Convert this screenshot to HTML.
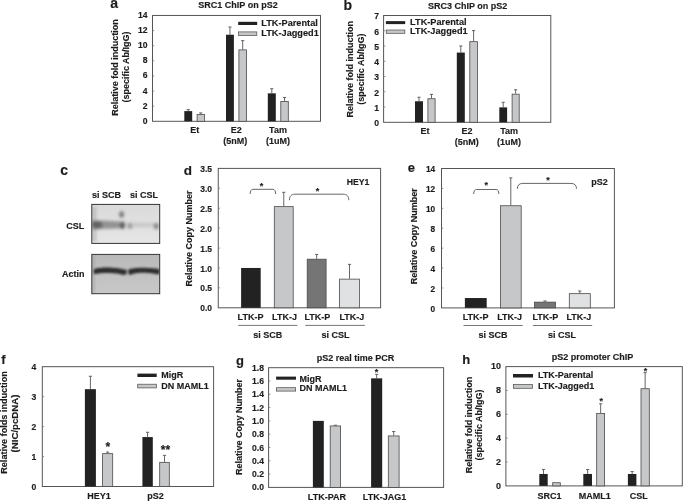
<!DOCTYPE html>
<html><head><meta charset="utf-8"><style>
html,body{margin:0;padding:0;background:#fff;}
svg{display:block;}
text{font-family:"Liberation Sans", sans-serif;stroke:#1c1c1c;stroke-width:0.15px;}
</style></head><body>
<svg width="685" height="502" viewBox="0 0 685 502">
<defs>
<linearGradient id="blot1" x1="0" y1="0" x2="0" y2="1"><stop offset="0" stop-color="#dadada"/><stop offset="0.5" stop-color="#e0e0e0"/><stop offset="1" stop-color="#e6e6e6"/></linearGradient>
<linearGradient id="blot2bg" x1="0" y1="0" x2="0" y2="1"><stop offset="0" stop-color="#b8b8b8"/><stop offset="0.35" stop-color="#bfbfbf"/><stop offset="1" stop-color="#c8c8c8"/></linearGradient>
<filter id="blur1" x="-20%" y="-50%" width="140%" height="200%"><feGaussianBlur stdDeviation="0.75"/></filter>
<filter id="blur2" x="-20%" y="-50%" width="140%" height="200%"><feGaussianBlur stdDeviation="1.4"/></filter>
<filter id="blur3" x="-20%" y="-50%" width="140%" height="200%"><feGaussianBlur stdDeviation="0.95"/></filter>
<clipPath id="cb1"><rect x="91.8" y="204.4" width="67.9" height="39"/></clipPath>
<clipPath id="cb2"><rect x="91.8" y="254.4" width="67.9" height="39.3"/></clipPath>
<filter id="gblur" filterUnits="userSpaceOnUse" x="0" y="0" width="685" height="502"><feGaussianBlur stdDeviation="0.35"/></filter>
</defs>
<rect width="685" height="502" fill="#fff"/>
<g filter="url(#gblur)">
<text x="110.20" y="7.60" font-size="14" text-anchor="start" font-weight="bold" fill="#1c1c1c" >a</text>
<text x="238.00" y="8.30" font-size="9" text-anchor="middle" font-weight="bold" fill="#1c1c1c" >SRC1 ChIP on pS2</text>
<rect x="152.5" y="15.45" width="168.00" height="105.85" fill="none" stroke="#555" stroke-width="1"/>
<text x="147.60" y="123.80" font-size="8.6" text-anchor="end" font-weight="bold" fill="#1c1c1c" >0</text>
<line x1="152.50" y1="106.18" x2="154.30" y2="106.18" stroke="#777" stroke-width="0.8"/>
<text x="147.60" y="108.68" font-size="8.6" text-anchor="end" font-weight="bold" fill="#1c1c1c" >2</text>
<line x1="152.50" y1="91.06" x2="154.30" y2="91.06" stroke="#777" stroke-width="0.8"/>
<text x="147.60" y="93.56" font-size="8.6" text-anchor="end" font-weight="bold" fill="#1c1c1c" >4</text>
<line x1="152.50" y1="75.94" x2="154.30" y2="75.94" stroke="#777" stroke-width="0.8"/>
<text x="147.60" y="78.44" font-size="8.6" text-anchor="end" font-weight="bold" fill="#1c1c1c" >6</text>
<line x1="152.50" y1="60.81" x2="154.30" y2="60.81" stroke="#777" stroke-width="0.8"/>
<text x="147.60" y="63.31" font-size="8.6" text-anchor="end" font-weight="bold" fill="#1c1c1c" >8</text>
<line x1="152.50" y1="45.69" x2="154.30" y2="45.69" stroke="#777" stroke-width="0.8"/>
<text x="147.60" y="48.19" font-size="8.6" text-anchor="end" font-weight="bold" fill="#1c1c1c" >10</text>
<line x1="152.50" y1="30.57" x2="154.30" y2="30.57" stroke="#777" stroke-width="0.8"/>
<text x="147.60" y="33.07" font-size="8.6" text-anchor="end" font-weight="bold" fill="#1c1c1c" >12</text>
<text x="147.60" y="17.95" font-size="8.6" text-anchor="end" font-weight="bold" fill="#1c1c1c" >14</text>
<line x1="188.25" y1="109.58" x2="188.25" y2="111.09" stroke="#555" stroke-width="0.9"/>
<line x1="186.65" y1="109.58" x2="189.85" y2="109.58" stroke="#555" stroke-width="0.9"/>
<rect x="184.30" y="111.09" width="7.90" height="10.21" fill="#242324"/>
<line x1="200.75" y1="112.91" x2="200.75" y2="114.19" stroke="#555" stroke-width="0.9"/>
<line x1="199.15" y1="112.91" x2="202.35" y2="112.91" stroke="#555" stroke-width="0.9"/>
<rect x="197.10" y="114.59" width="7.30" height="6.71" fill="#c6c7c9" stroke="#4a4a4a" stroke-width="0.8"/>
<line x1="229.95" y1="27.02" x2="229.95" y2="34.73" stroke="#555" stroke-width="0.9"/>
<line x1="228.35" y1="27.02" x2="231.55" y2="27.02" stroke="#555" stroke-width="0.9"/>
<rect x="226.00" y="34.73" width="7.90" height="86.57" fill="#242324"/>
<line x1="242.70" y1="40.63" x2="242.70" y2="49.47" stroke="#555" stroke-width="0.9"/>
<line x1="241.10" y1="40.63" x2="244.30" y2="40.63" stroke="#555" stroke-width="0.9"/>
<rect x="238.90" y="49.87" width="7.60" height="71.43" fill="#c6c7c9" stroke="#4a4a4a" stroke-width="0.8"/>
<line x1="271.80" y1="88.71" x2="271.80" y2="93.33" stroke="#555" stroke-width="0.9"/>
<line x1="270.20" y1="88.71" x2="273.40" y2="88.71" stroke="#555" stroke-width="0.9"/>
<rect x="267.80" y="93.33" width="8.00" height="27.97" fill="#242324"/>
<line x1="284.55" y1="97.48" x2="284.55" y2="101.19" stroke="#555" stroke-width="0.9"/>
<line x1="282.95" y1="97.48" x2="286.15" y2="97.48" stroke="#555" stroke-width="0.9"/>
<rect x="280.80" y="101.59" width="7.50" height="19.71" fill="#c6c7c9" stroke="#4a4a4a" stroke-width="0.8"/>
<rect x="238.2" y="21.8" width="19.00" height="3.2" fill="#242324"/>
<text x="261.30" y="25.70" font-size="9.2" text-anchor="start" font-weight="bold" fill="#1c1c1c" >LTK-Parental</text>
<rect x="238.55" y="31.90" width="18.30" height="3.50" fill="#c6c7c9" stroke="#4a4a4a" stroke-width="0.7"/>
<text x="261.30" y="35.50" font-size="9.2" text-anchor="start" font-weight="bold" fill="#1c1c1c" >LTK-Jagged1</text>
<text x="0" y="0" font-size="9" text-anchor="middle" font-weight="bold" fill="#1c1c1c" transform="translate(118.4,67.5) rotate(-90)" >Relative fold induction</text>
<text x="0" y="0" font-size="9" text-anchor="middle" font-weight="bold" fill="#1c1c1c" transform="translate(129.2,67.0) rotate(-90)" >(specific Ab/IgG)</text>
<text x="194.80" y="133.00" font-size="9" text-anchor="middle" font-weight="bold" fill="#1c1c1c" >Et</text>
<text x="236.30" y="133.00" font-size="9" text-anchor="middle" font-weight="bold" fill="#1c1c1c" >E2</text>
<text x="235.20" y="144.00" font-size="9" text-anchor="middle" font-weight="bold" fill="#1c1c1c" >(5nM)</text>
<text x="278.00" y="133.00" font-size="9" text-anchor="middle" font-weight="bold" fill="#1c1c1c" >Tam</text>
<text x="278.00" y="144.00" font-size="9" text-anchor="middle" font-weight="bold" fill="#1c1c1c" >(1uM)</text>
<text x="343.60" y="9.80" font-size="14" text-anchor="start" font-weight="bold" fill="#1c1c1c" >b</text>
<text x="467.60" y="9.20" font-size="9" text-anchor="middle" font-weight="bold" fill="#1c1c1c" >SRC3 ChIP on pS2</text>
<rect x="383.6" y="15.5" width="167.20" height="106.80" fill="none" stroke="#555" stroke-width="1"/>
<text x="379.00" y="126.20" font-size="8.6" text-anchor="end" font-weight="bold" fill="#1c1c1c" >0</text>
<line x1="383.60" y1="107.04" x2="385.40" y2="107.04" stroke="#777" stroke-width="0.8"/>
<text x="379.00" y="110.94" font-size="8.6" text-anchor="end" font-weight="bold" fill="#1c1c1c" >1</text>
<line x1="383.60" y1="91.79" x2="385.40" y2="91.79" stroke="#777" stroke-width="0.8"/>
<text x="379.00" y="95.69" font-size="8.6" text-anchor="end" font-weight="bold" fill="#1c1c1c" >2</text>
<line x1="383.60" y1="76.53" x2="385.40" y2="76.53" stroke="#777" stroke-width="0.8"/>
<text x="379.00" y="80.43" font-size="8.6" text-anchor="end" font-weight="bold" fill="#1c1c1c" >3</text>
<line x1="383.60" y1="61.27" x2="385.40" y2="61.27" stroke="#777" stroke-width="0.8"/>
<text x="379.00" y="65.17" font-size="8.6" text-anchor="end" font-weight="bold" fill="#1c1c1c" >4</text>
<line x1="383.60" y1="46.01" x2="385.40" y2="46.01" stroke="#777" stroke-width="0.8"/>
<text x="379.00" y="49.91" font-size="8.6" text-anchor="end" font-weight="bold" fill="#1c1c1c" >5</text>
<line x1="383.60" y1="30.76" x2="385.40" y2="30.76" stroke="#777" stroke-width="0.8"/>
<text x="379.00" y="34.66" font-size="8.6" text-anchor="end" font-weight="bold" fill="#1c1c1c" >6</text>
<text x="379.00" y="19.40" font-size="8.6" text-anchor="end" font-weight="bold" fill="#1c1c1c" >7</text>
<line x1="419.00" y1="97.28" x2="419.00" y2="101.25" stroke="#555" stroke-width="0.9"/>
<line x1="417.40" y1="97.28" x2="420.60" y2="97.28" stroke="#555" stroke-width="0.9"/>
<rect x="415.00" y="101.25" width="8.00" height="21.05" fill="#242324"/>
<line x1="431.50" y1="94.38" x2="431.50" y2="98.35" stroke="#555" stroke-width="0.9"/>
<line x1="429.90" y1="94.38" x2="433.10" y2="94.38" stroke="#555" stroke-width="0.9"/>
<rect x="427.90" y="98.75" width="7.20" height="23.55" fill="#c6c7c9" stroke="#4a4a4a" stroke-width="0.8"/>
<line x1="460.80" y1="46.01" x2="460.80" y2="52.57" stroke="#555" stroke-width="0.9"/>
<line x1="459.20" y1="46.01" x2="462.40" y2="46.01" stroke="#555" stroke-width="0.9"/>
<rect x="456.80" y="52.57" width="8.00" height="69.73" fill="#242324"/>
<line x1="473.60" y1="30.60" x2="473.60" y2="41.28" stroke="#555" stroke-width="0.9"/>
<line x1="472.00" y1="30.60" x2="475.20" y2="30.60" stroke="#555" stroke-width="0.9"/>
<rect x="469.80" y="41.68" width="7.60" height="80.62" fill="#c6c7c9" stroke="#4a4a4a" stroke-width="0.8"/>
<line x1="503.20" y1="102.31" x2="503.20" y2="107.35" stroke="#555" stroke-width="0.9"/>
<line x1="501.60" y1="102.31" x2="504.80" y2="102.31" stroke="#555" stroke-width="0.9"/>
<rect x="499.30" y="107.35" width="7.80" height="14.95" fill="#242324"/>
<line x1="515.65" y1="89.80" x2="515.65" y2="93.77" stroke="#555" stroke-width="0.9"/>
<line x1="514.05" y1="89.80" x2="517.25" y2="89.80" stroke="#555" stroke-width="0.9"/>
<rect x="512.10" y="94.17" width="7.10" height="28.13" fill="#c6c7c9" stroke="#4a4a4a" stroke-width="0.8"/>
<rect x="385.9" y="21.1" width="19.30" height="3.0" fill="#242324"/>
<text x="410.10" y="24.60" font-size="9.2" text-anchor="start" font-weight="bold" fill="#1c1c1c" >LTK-Parental</text>
<rect x="386.25" y="30.00" width="18.60" height="3.30" fill="#c6c7c9" stroke="#4a4a4a" stroke-width="0.7"/>
<text x="410.10" y="33.70" font-size="9.2" text-anchor="start" font-weight="bold" fill="#1c1c1c" >LTK-Jagged1</text>
<text x="0" y="0" font-size="9" text-anchor="middle" font-weight="bold" fill="#1c1c1c" transform="translate(352.8,69.3) rotate(-90)" >Relative fold induction</text>
<text x="0" y="0" font-size="9" text-anchor="middle" font-weight="bold" fill="#1c1c1c" transform="translate(364.4,69.2) rotate(-90)" >(specific Ab/IgG)</text>
<text x="425.10" y="134.20" font-size="9" text-anchor="middle" font-weight="bold" fill="#1c1c1c" >Et</text>
<text x="467.00" y="134.20" font-size="9" text-anchor="middle" font-weight="bold" fill="#1c1c1c" >E2</text>
<text x="466.70" y="144.50" font-size="9" text-anchor="middle" font-weight="bold" fill="#1c1c1c" >(5nM)</text>
<text x="509.20" y="134.20" font-size="9" text-anchor="middle" font-weight="bold" fill="#1c1c1c" >Tam</text>
<text x="509.00" y="144.50" font-size="9" text-anchor="middle" font-weight="bold" fill="#1c1c1c" >(1uM)</text>
<text x="60.20" y="175.30" font-size="14" text-anchor="start" font-weight="bold" fill="#1c1c1c" >c</text>
<text x="106.50" y="197.70" font-size="9" text-anchor="middle" font-weight="bold" fill="#1c1c1c" >si SCB</text>
<text x="143.90" y="197.70" font-size="9" text-anchor="middle" font-weight="bold" fill="#1c1c1c" >si CSL</text>
<text x="84.20" y="229.10" font-size="9" text-anchor="end" font-weight="bold" fill="#1c1c1c" >CSL</text>
<text x="84.40" y="276.50" font-size="9" text-anchor="end" font-weight="bold" fill="#1c1c1c" >Actin</text>
<g clip-path="url(#cb1)">
<rect x="91.8" y="204.4" width="67.9" height="39" fill="url(#blot1)"/>
<g filter="url(#blur2)">
<rect x="92" y="207" width="4.5" height="35" fill="#a8a8a8" opacity="0.55"/>
<path d="M92,220.2 C100,220.2 112,221 125,221.8 L125,228.2 C112,228.4 100,229.2 92,229.5 Z" fill="#808080" opacity="0.8"/>
<ellipse cx="97" cy="224.8" rx="5.5" ry="3.8" fill="#505050" opacity="0.7"/>
<ellipse cx="121.6" cy="214.5" rx="2.4" ry="3.2" fill="#6a6a6a" opacity="0.85"/>
<ellipse cx="122.3" cy="225.5" rx="2.4" ry="3.4" fill="#555" opacity="0.85"/>
<ellipse cx="130" cy="226" rx="2.2" ry="3" fill="#777" opacity="0.75"/>
<path d="M126,222.5 C135,222.5 148,223 159,223.5 L159,227.5 C148,227 135,227 126,227.5 Z" fill="#aaa" opacity="0.45"/>
<ellipse cx="156.3" cy="226.2" rx="2.6" ry="3.2" fill="#777" opacity="0.75"/>
</g></g>
<rect x="91.8" y="204.4" width="67.9" height="39" fill="none" stroke="#333" stroke-width="1"/>
<g clip-path="url(#cb2)">
<rect x="91.8" y="254.4" width="67.9" height="39.3" fill="url(#blot2bg)"/>
<g filter="url(#blur3)">
<rect x="92" y="256" width="3" height="37" fill="#999" opacity="0.4"/>
<path d="M93.5,269.2 C97,267.8 105,267.4 112,267.7 C118,268 122,268.8 126.8,269.8 L126.5,274.2 C124,275.2 122,275 120,274 C112,272.8 101,272.6 96,274 C94,274.5 93.5,273.5 93.5,272 Z" fill="#2e2e2e"/>
<path d="M128.3,269.8 C131,268 140,267.6 148,267.9 C154,268 157,268.5 159.5,269 L159.5,274.2 C157,274.6 154,273.3 148,272.9 C140,272.6 134,273.2 131,274.7 C129.5,275.2 128.3,274 128.3,272.5 Z" fill="#2e2e2e"/>
</g></g>
<rect x="91.8" y="254.4" width="67.9" height="39.3" fill="none" stroke="#333" stroke-width="1"/>
<text x="183.70" y="175.10" font-size="13.5" text-anchor="start" font-weight="bold" fill="#1c1c1c" >d</text>
<rect x="218.25" y="168.4" width="162.35" height="139.40" fill="none" stroke="#555" stroke-width="1"/>
<text x="212.00" y="311.40" font-size="8.5" text-anchor="end" font-weight="bold" fill="#1c1c1c" >0.0</text>
<line x1="218.25" y1="287.89" x2="220.05" y2="287.89" stroke="#777" stroke-width="0.8"/>
<text x="212.00" y="291.49" font-size="8.5" text-anchor="end" font-weight="bold" fill="#1c1c1c" >0.5</text>
<line x1="218.25" y1="267.97" x2="220.05" y2="267.97" stroke="#777" stroke-width="0.8"/>
<text x="212.00" y="271.57" font-size="8.5" text-anchor="end" font-weight="bold" fill="#1c1c1c" >1.0</text>
<line x1="218.25" y1="248.06" x2="220.05" y2="248.06" stroke="#777" stroke-width="0.8"/>
<text x="212.00" y="251.66" font-size="8.5" text-anchor="end" font-weight="bold" fill="#1c1c1c" >1.5</text>
<line x1="218.25" y1="228.14" x2="220.05" y2="228.14" stroke="#777" stroke-width="0.8"/>
<text x="212.00" y="231.74" font-size="8.5" text-anchor="end" font-weight="bold" fill="#1c1c1c" >2.0</text>
<line x1="218.25" y1="208.23" x2="220.05" y2="208.23" stroke="#777" stroke-width="0.8"/>
<text x="212.00" y="211.83" font-size="8.5" text-anchor="end" font-weight="bold" fill="#1c1c1c" >2.5</text>
<line x1="218.25" y1="188.31" x2="220.05" y2="188.31" stroke="#777" stroke-width="0.8"/>
<text x="212.00" y="191.91" font-size="8.5" text-anchor="end" font-weight="bold" fill="#1c1c1c" >3.0</text>
<text x="212.00" y="172.00" font-size="8.5" text-anchor="end" font-weight="bold" fill="#1c1c1c" >3.5</text>
<rect x="241.10" y="267.97" width="19.60" height="39.83" fill="#242324"/>
<line x1="283.75" y1="192.30" x2="283.75" y2="206.24" stroke="#555" stroke-width="0.9"/>
<line x1="282.15" y1="192.30" x2="285.35" y2="192.30" stroke="#555" stroke-width="0.9"/>
<rect x="274.30" y="206.64" width="18.90" height="101.16" fill="#c6c7c9" stroke="#4a4a4a" stroke-width="0.8"/>
<line x1="316.65" y1="254.43" x2="316.65" y2="258.81" stroke="#555" stroke-width="0.9"/>
<line x1="315.05" y1="254.43" x2="318.25" y2="254.43" stroke="#555" stroke-width="0.9"/>
<rect x="307.20" y="259.21" width="18.90" height="48.59" fill="#747476" stroke="#4a4a4a" stroke-width="0.8"/>
<line x1="349.50" y1="264.39" x2="349.50" y2="278.73" stroke="#555" stroke-width="0.9"/>
<line x1="347.90" y1="264.39" x2="351.10" y2="264.39" stroke="#555" stroke-width="0.9"/>
<rect x="339.60" y="279.13" width="19.80" height="28.67" fill="#e0e1e3" stroke="#4a4a4a" stroke-width="0.8"/>
<text x="0" y="0" font-size="9" text-anchor="middle" font-weight="bold" fill="#1c1c1c" transform="translate(191.7,238.5) rotate(-90)" >Relative Copy Number</text>
<text x="358.10" y="185.20" font-size="8.7" text-anchor="middle" font-weight="bold" fill="#1c1c1c" >HEY1</text>
<text x="250.50" y="320.40" font-size="9" text-anchor="middle" font-weight="bold" fill="#1c1c1c" >LTK-P</text>
<text x="284.50" y="320.40" font-size="9" text-anchor="middle" font-weight="bold" fill="#1c1c1c" >LTK-J</text>
<text x="317.40" y="320.40" font-size="9" text-anchor="middle" font-weight="bold" fill="#1c1c1c" >LTK-P</text>
<text x="351.90" y="320.40" font-size="9" text-anchor="middle" font-weight="bold" fill="#1c1c1c" >LTK-J</text>
<line x1="238.20" y1="325.40" x2="297.40" y2="325.40" stroke="#666" stroke-width="0.9"/>
<line x1="305.20" y1="325.40" x2="364.90" y2="325.40" stroke="#666" stroke-width="0.9"/>
<text x="267.80" y="337.70" font-size="9" text-anchor="middle" font-weight="bold" fill="#1c1c1c" >si SCB</text>
<text x="335.60" y="337.70" font-size="9" text-anchor="middle" font-weight="bold" fill="#1c1c1c" >si CSL</text>
<path d="M250.2,194.0 C250.2,190.945 251.17999999999998,189.3 253.0,189.3 L272.8,189.3 C274.62,189.3 275.6,190.945 275.6,194.0" fill="none" stroke="#555" stroke-width="0.9"/>
<text x="261.60" y="188.50" font-size="9" text-anchor="middle" font-weight="bold" fill="#1c1c1c" >*</text>
<path d="M289.4,200.2 C289.4,196.29999999999998 291.325,194.2 294.9,194.2 L343.3,194.2 C346.875,194.2 348.8,196.29999999999998 348.8,200.2" fill="none" stroke="#555" stroke-width="0.9"/>
<text x="317.40" y="194.30" font-size="9" text-anchor="middle" font-weight="bold" fill="#1c1c1c" >*</text>
<text x="407.80" y="172.30" font-size="13" text-anchor="start" font-weight="bold" fill="#1c1c1c" >e</text>
<rect x="441.5" y="168.5" width="172.90" height="139.40" fill="none" stroke="#555" stroke-width="1"/>
<text x="435.20" y="311.50" font-size="8.3" text-anchor="end" font-weight="bold" fill="#1c1c1c" >0</text>
<line x1="441.50" y1="287.99" x2="443.30" y2="287.99" stroke="#777" stroke-width="0.8"/>
<text x="435.20" y="291.59" font-size="8.3" text-anchor="end" font-weight="bold" fill="#1c1c1c" >2</text>
<line x1="441.50" y1="268.07" x2="443.30" y2="268.07" stroke="#777" stroke-width="0.8"/>
<text x="435.20" y="271.67" font-size="8.3" text-anchor="end" font-weight="bold" fill="#1c1c1c" >4</text>
<line x1="441.50" y1="248.16" x2="443.30" y2="248.16" stroke="#777" stroke-width="0.8"/>
<text x="435.20" y="251.76" font-size="8.3" text-anchor="end" font-weight="bold" fill="#1c1c1c" >6</text>
<line x1="441.50" y1="228.24" x2="443.30" y2="228.24" stroke="#777" stroke-width="0.8"/>
<text x="435.20" y="231.84" font-size="8.3" text-anchor="end" font-weight="bold" fill="#1c1c1c" >8</text>
<line x1="441.50" y1="208.33" x2="443.30" y2="208.33" stroke="#777" stroke-width="0.8"/>
<text x="435.20" y="211.93" font-size="8.3" text-anchor="end" font-weight="bold" fill="#1c1c1c" >10</text>
<line x1="441.50" y1="188.41" x2="443.30" y2="188.41" stroke="#777" stroke-width="0.8"/>
<text x="435.20" y="192.01" font-size="8.3" text-anchor="end" font-weight="bold" fill="#1c1c1c" >12</text>
<text x="435.20" y="172.10" font-size="8.3" text-anchor="end" font-weight="bold" fill="#1c1c1c" >14</text>
<rect x="464.90" y="298.04" width="21.80" height="9.86" fill="#242324"/>
<line x1="510.80" y1="177.86" x2="510.80" y2="205.34" stroke="#555" stroke-width="0.9"/>
<line x1="509.20" y1="177.86" x2="512.40" y2="177.86" stroke="#555" stroke-width="0.9"/>
<rect x="500.40" y="205.74" width="20.80" height="102.16" fill="#c6c7c9" stroke="#4a4a4a" stroke-width="0.8"/>
<line x1="545.00" y1="300.93" x2="545.00" y2="301.73" stroke="#555" stroke-width="0.9"/>
<line x1="543.40" y1="300.93" x2="546.60" y2="300.93" stroke="#555" stroke-width="0.9"/>
<rect x="534.50" y="302.13" width="21.00" height="5.77" fill="#747476" stroke="#4a4a4a" stroke-width="0.8"/>
<line x1="579.80" y1="290.97" x2="579.80" y2="293.26" stroke="#555" stroke-width="0.9"/>
<line x1="578.20" y1="290.97" x2="581.40" y2="290.97" stroke="#555" stroke-width="0.9"/>
<rect x="569.30" y="293.66" width="21.00" height="14.24" fill="#e0e1e3" stroke="#4a4a4a" stroke-width="0.8"/>
<text x="0" y="0" font-size="9" text-anchor="middle" font-weight="bold" fill="#1c1c1c" transform="translate(417.3,236.3) rotate(-90)" >Relative Copy Number</text>
<text x="599.50" y="185.00" font-size="9" text-anchor="middle" font-weight="bold" fill="#1c1c1c" >pS2</text>
<text x="475.70" y="319.80" font-size="9" text-anchor="middle" font-weight="bold" fill="#1c1c1c" >LTK-P</text>
<text x="509.60" y="319.80" font-size="9" text-anchor="middle" font-weight="bold" fill="#1c1c1c" >LTK-J</text>
<text x="545.30" y="319.80" font-size="9" text-anchor="middle" font-weight="bold" fill="#1c1c1c" >LTK-P</text>
<text x="578.80" y="319.80" font-size="9" text-anchor="middle" font-weight="bold" fill="#1c1c1c" >LTK-J</text>
<line x1="463.50" y1="325.50" x2="522.70" y2="325.50" stroke="#666" stroke-width="0.9"/>
<line x1="532.90" y1="325.50" x2="592.20" y2="325.50" stroke="#666" stroke-width="0.9"/>
<text x="493.10" y="337.80" font-size="9" text-anchor="middle" font-weight="bold" fill="#1c1c1c" >si SCB</text>
<text x="561.90" y="337.80" font-size="9" text-anchor="middle" font-weight="bold" fill="#1c1c1c" >si CSL</text>
<path d="M473.7,194.0 C473.7,191.075 474.68,189.5 476.5,189.5 L496.0,189.5 C497.82,189.5 498.8,191.075 498.8,194.0" fill="none" stroke="#555" stroke-width="0.9"/>
<text x="486.30" y="188.20" font-size="9" text-anchor="middle" font-weight="bold" fill="#1c1c1c" >*</text>
<path d="M517.3,188.8 C517.3,185.29000000000002 519.2249999999999,183.4 522.8,183.4 L571.0,183.4 C574.575,183.4 576.5,185.29000000000002 576.5,188.8" fill="none" stroke="#555" stroke-width="0.9"/>
<text x="547.90" y="182.80" font-size="9" text-anchor="middle" font-weight="bold" fill="#1c1c1c" >*</text>
<text x="1.20" y="363.60" font-size="13" text-anchor="start" font-weight="bold" fill="#1c1c1c" >f</text>
<rect x="42.3" y="366.7" width="171.30" height="119.80" fill="none" stroke="#555" stroke-width="1"/>
<text x="36.20" y="489.70" font-size="8.6" text-anchor="end" font-weight="bold" fill="#1c1c1c" >0</text>
<line x1="42.30" y1="456.55" x2="44.10" y2="456.55" stroke="#777" stroke-width="0.8"/>
<text x="36.20" y="459.75" font-size="8.6" text-anchor="end" font-weight="bold" fill="#1c1c1c" >1</text>
<line x1="42.30" y1="426.60" x2="44.10" y2="426.60" stroke="#777" stroke-width="0.8"/>
<text x="36.20" y="429.80" font-size="8.6" text-anchor="end" font-weight="bold" fill="#1c1c1c" >2</text>
<line x1="42.30" y1="396.65" x2="44.10" y2="396.65" stroke="#777" stroke-width="0.8"/>
<text x="36.20" y="399.85" font-size="8.6" text-anchor="end" font-weight="bold" fill="#1c1c1c" >3</text>
<text x="36.20" y="369.90" font-size="8.6" text-anchor="end" font-weight="bold" fill="#1c1c1c" >4</text>
<line x1="90.40" y1="376.28" x2="90.40" y2="389.16" stroke="#555" stroke-width="0.9"/>
<line x1="88.80" y1="376.28" x2="92.00" y2="376.28" stroke="#555" stroke-width="0.9"/>
<rect x="84.90" y="389.16" width="11.00" height="97.34" fill="#242324"/>
<line x1="107.65" y1="452.06" x2="107.65" y2="453.26" stroke="#555" stroke-width="0.9"/>
<line x1="106.05" y1="452.06" x2="109.25" y2="452.06" stroke="#555" stroke-width="0.9"/>
<rect x="102.60" y="453.66" width="10.10" height="32.84" fill="#c6c7c9" stroke="#4a4a4a" stroke-width="0.8"/>
<line x1="147.60" y1="432.29" x2="147.60" y2="437.08" stroke="#555" stroke-width="0.9"/>
<line x1="146.00" y1="432.29" x2="149.20" y2="432.29" stroke="#555" stroke-width="0.9"/>
<rect x="142.40" y="437.08" width="10.40" height="49.42" fill="#242324"/>
<line x1="164.50" y1="455.35" x2="164.50" y2="461.94" stroke="#555" stroke-width="0.9"/>
<line x1="162.90" y1="455.35" x2="166.10" y2="455.35" stroke="#555" stroke-width="0.9"/>
<rect x="159.70" y="462.34" width="9.60" height="24.16" fill="#c6c7c9" stroke="#4a4a4a" stroke-width="0.8"/>
<rect x="137.4" y="373.6" width="19.30" height="3.4" fill="#242324"/>
<text x="161.20" y="377.80" font-size="9" text-anchor="start" font-weight="bold" fill="#1c1c1c" >MigR</text>
<rect x="137.75" y="384.20" width="18.60" height="3.70" fill="#c6c7c9" stroke="#4a4a4a" stroke-width="0.7"/>
<text x="161.20" y="389.20" font-size="9" text-anchor="start" font-weight="bold" fill="#1c1c1c" >DN MAML1</text>
<text x="0" y="0" font-size="9" text-anchor="middle" font-weight="bold" fill="#1c1c1c" transform="translate(7.2,422.5) rotate(-90)" textLength="102.5" lengthAdjust="spacingAndGlyphs">Relative folds induction</text>
<text x="0" y="0" font-size="9" text-anchor="middle" font-weight="bold" fill="#1c1c1c" transform="translate(18.2,423.5) rotate(-90)" textLength="58" lengthAdjust="spacingAndGlyphs">(NIC/pcDNA)</text>
<text x="107.80" y="450.80" font-size="12" text-anchor="middle" font-weight="bold" fill="#1c1c1c" >*</text>
<text x="165.40" y="454.40" font-size="12" text-anchor="middle" font-weight="bold" fill="#1c1c1c" >**</text>
<text x="99.10" y="498.60" font-size="9" text-anchor="middle" font-weight="bold" fill="#1c1c1c" >HEY1</text>
<text x="155.60" y="499.20" font-size="9" text-anchor="middle" font-weight="bold" fill="#1c1c1c" >pS2</text>
<text x="236.00" y="364.60" font-size="13" text-anchor="start" font-weight="bold" fill="#1c1c1c" >g</text>
<text x="355.60" y="361.20" font-size="9" text-anchor="middle" font-weight="bold" fill="#1c1c1c" >pS2 real time PCR</text>
<rect x="268.6" y="367.7" width="175.00" height="119.70" fill="none" stroke="#555" stroke-width="1"/>
<text x="264.00" y="490.40" font-size="8.6" text-anchor="end" font-weight="bold" fill="#1c1c1c" >0.0</text>
<line x1="268.60" y1="474.10" x2="270.40" y2="474.10" stroke="#777" stroke-width="0.8"/>
<text x="264.00" y="477.10" font-size="8.6" text-anchor="end" font-weight="bold" fill="#1c1c1c" >0.2</text>
<line x1="268.60" y1="460.80" x2="270.40" y2="460.80" stroke="#777" stroke-width="0.8"/>
<text x="264.00" y="463.80" font-size="8.6" text-anchor="end" font-weight="bold" fill="#1c1c1c" >0.4</text>
<line x1="268.60" y1="447.50" x2="270.40" y2="447.50" stroke="#777" stroke-width="0.8"/>
<text x="264.00" y="450.50" font-size="8.6" text-anchor="end" font-weight="bold" fill="#1c1c1c" >0.6</text>
<line x1="268.60" y1="434.20" x2="270.40" y2="434.20" stroke="#777" stroke-width="0.8"/>
<text x="264.00" y="437.20" font-size="8.6" text-anchor="end" font-weight="bold" fill="#1c1c1c" >0.8</text>
<line x1="268.60" y1="420.90" x2="270.40" y2="420.90" stroke="#777" stroke-width="0.8"/>
<text x="264.00" y="423.90" font-size="8.6" text-anchor="end" font-weight="bold" fill="#1c1c1c" >1.0</text>
<line x1="268.60" y1="407.60" x2="270.40" y2="407.60" stroke="#777" stroke-width="0.8"/>
<text x="264.00" y="410.60" font-size="8.6" text-anchor="end" font-weight="bold" fill="#1c1c1c" >1.2</text>
<line x1="268.60" y1="394.30" x2="270.40" y2="394.30" stroke="#777" stroke-width="0.8"/>
<text x="264.00" y="397.30" font-size="8.6" text-anchor="end" font-weight="bold" fill="#1c1c1c" >1.4</text>
<line x1="268.60" y1="381.00" x2="270.40" y2="381.00" stroke="#777" stroke-width="0.8"/>
<text x="264.00" y="384.00" font-size="8.6" text-anchor="end" font-weight="bold" fill="#1c1c1c" >1.6</text>
<text x="264.00" y="370.70" font-size="8.6" text-anchor="end" font-weight="bold" fill="#1c1c1c" >1.8</text>
<rect x="312.90" y="420.90" width="10.90" height="66.50" fill="#242324"/>
<line x1="335.40" y1="425.22" x2="335.40" y2="425.55" stroke="#555" stroke-width="0.9"/>
<line x1="333.80" y1="425.22" x2="337.00" y2="425.22" stroke="#555" stroke-width="0.9"/>
<rect x="330.20" y="425.95" width="10.40" height="61.45" fill="#c6c7c9" stroke="#4a4a4a" stroke-width="0.8"/>
<line x1="376.65" y1="374.35" x2="376.65" y2="378.34" stroke="#555" stroke-width="0.9"/>
<line x1="375.05" y1="374.35" x2="378.25" y2="374.35" stroke="#555" stroke-width="0.9"/>
<rect x="371.10" y="378.34" width="11.10" height="109.06" fill="#242324"/>
<line x1="393.70" y1="431.54" x2="393.70" y2="435.53" stroke="#555" stroke-width="0.9"/>
<line x1="392.10" y1="431.54" x2="395.30" y2="431.54" stroke="#555" stroke-width="0.9"/>
<rect x="388.30" y="435.93" width="10.80" height="51.47" fill="#c6c7c9" stroke="#4a4a4a" stroke-width="0.8"/>
<rect x="276.1" y="376.6" width="19.90" height="3.1" fill="#242324"/>
<text x="299.40" y="382.00" font-size="9" text-anchor="start" font-weight="bold" fill="#1c1c1c" >MigR</text>
<rect x="276.45" y="387.70" width="19.20" height="3.40" fill="#c6c7c9" stroke="#4a4a4a" stroke-width="0.7"/>
<text x="299.40" y="391.40" font-size="9" text-anchor="start" font-weight="bold" fill="#1c1c1c" >DN MAML1</text>
<text x="0" y="0" font-size="9" text-anchor="middle" font-weight="bold" fill="#1c1c1c" transform="translate(241.8,427.0) rotate(-90)" >Relative Copy Number</text>
<text x="376.50" y="375.30" font-size="9" text-anchor="middle" font-weight="bold" fill="#1c1c1c" >*</text>
<text x="326.90" y="500.10" font-size="9" text-anchor="middle" font-weight="bold" fill="#1c1c1c" >LTK-PAR</text>
<text x="384.50" y="500.10" font-size="9" text-anchor="middle" font-weight="bold" fill="#1c1c1c" >LTK-JAG1</text>
<text x="462.20" y="363.80" font-size="13" text-anchor="start" font-weight="bold" fill="#1c1c1c" >h</text>
<text x="592.60" y="360.20" font-size="9" text-anchor="middle" font-weight="bold" fill="#1c1c1c" >pS2 promoter ChIP</text>
<rect x="505.9" y="366.6" width="176.40" height="119.30" fill="none" stroke="#555" stroke-width="1"/>
<text x="501.00" y="488.50" font-size="9" text-anchor="end" font-weight="bold" fill="#1c1c1c" >0</text>
<line x1="505.90" y1="462.04" x2="507.70" y2="462.04" stroke="#777" stroke-width="0.8"/>
<text x="501.00" y="464.64" font-size="9" text-anchor="end" font-weight="bold" fill="#1c1c1c" >2</text>
<line x1="505.90" y1="438.18" x2="507.70" y2="438.18" stroke="#777" stroke-width="0.8"/>
<text x="501.00" y="440.78" font-size="9" text-anchor="end" font-weight="bold" fill="#1c1c1c" >4</text>
<line x1="505.90" y1="414.32" x2="507.70" y2="414.32" stroke="#777" stroke-width="0.8"/>
<text x="501.00" y="416.92" font-size="9" text-anchor="end" font-weight="bold" fill="#1c1c1c" >6</text>
<line x1="505.90" y1="390.46" x2="507.70" y2="390.46" stroke="#777" stroke-width="0.8"/>
<text x="501.00" y="393.06" font-size="9" text-anchor="end" font-weight="bold" fill="#1c1c1c" >8</text>
<text x="501.00" y="369.20" font-size="9" text-anchor="end" font-weight="bold" fill="#1c1c1c" >10</text>
<line x1="543.50" y1="469.44" x2="543.50" y2="473.97" stroke="#555" stroke-width="0.9"/>
<line x1="541.90" y1="469.44" x2="545.10" y2="469.44" stroke="#555" stroke-width="0.9"/>
<rect x="539.30" y="473.97" width="8.40" height="11.93" fill="#242324"/>
<rect x="552.70" y="482.72" width="7.60" height="3.18" fill="#c6c7c9" stroke="#4a4a4a" stroke-width="0.8"/>
<line x1="587.65" y1="469.56" x2="587.65" y2="473.97" stroke="#555" stroke-width="0.9"/>
<line x1="586.05" y1="469.56" x2="589.25" y2="469.56" stroke="#555" stroke-width="0.9"/>
<rect x="583.30" y="473.97" width="8.70" height="11.93" fill="#242324"/>
<line x1="600.65" y1="403.82" x2="600.65" y2="413.13" stroke="#555" stroke-width="0.9"/>
<line x1="599.05" y1="403.82" x2="602.25" y2="403.82" stroke="#555" stroke-width="0.9"/>
<rect x="596.70" y="413.53" width="7.90" height="72.37" fill="#c6c7c9" stroke="#4a4a4a" stroke-width="0.8"/>
<line x1="632.15" y1="471.58" x2="632.15" y2="473.97" stroke="#555" stroke-width="0.9"/>
<line x1="630.55" y1="471.58" x2="633.75" y2="471.58" stroke="#555" stroke-width="0.9"/>
<rect x="627.90" y="473.97" width="8.50" height="11.93" fill="#242324"/>
<line x1="645.15" y1="372.68" x2="645.15" y2="388.31" stroke="#555" stroke-width="0.9"/>
<line x1="643.55" y1="372.68" x2="646.75" y2="372.68" stroke="#555" stroke-width="0.9"/>
<rect x="641.00" y="388.71" width="8.30" height="97.19" fill="#c6c7c9" stroke="#4a4a4a" stroke-width="0.8"/>
<rect x="513.0" y="374.0" width="20.00" height="3.5" fill="#242324"/>
<text x="538.00" y="378.30" font-size="9" text-anchor="start" font-weight="bold" fill="#1c1c1c" >LTK-Parental</text>
<rect x="513.35" y="384.50" width="19.30" height="3.80" fill="#c6c7c9" stroke="#4a4a4a" stroke-width="0.7"/>
<text x="538.00" y="388.60" font-size="9" text-anchor="start" font-weight="bold" fill="#1c1c1c" >LTK-Jagged1</text>
<text x="0" y="0" font-size="9" text-anchor="middle" font-weight="bold" fill="#1c1c1c" transform="translate(472.0,425.0) rotate(-90)" >Relative fold induction</text>
<text x="0" y="0" font-size="9" text-anchor="middle" font-weight="bold" fill="#1c1c1c" transform="translate(482.1,425.0) rotate(-90)" >(specific Ab/IgG)</text>
<text x="601.30" y="403.50" font-size="9" text-anchor="middle" font-weight="bold" fill="#1c1c1c" >*</text>
<text x="645.50" y="374.00" font-size="9" text-anchor="middle" font-weight="bold" fill="#1c1c1c" >*</text>
<text x="549.50" y="499.00" font-size="9" text-anchor="middle" font-weight="bold" fill="#1c1c1c" >SRC1</text>
<text x="594.80" y="499.00" font-size="9" text-anchor="middle" font-weight="bold" fill="#1c1c1c" >MAML1</text>
<text x="638.80" y="499.00" font-size="9" text-anchor="middle" font-weight="bold" fill="#1c1c1c" >CSL</text>
</g>
</svg></body></html>
